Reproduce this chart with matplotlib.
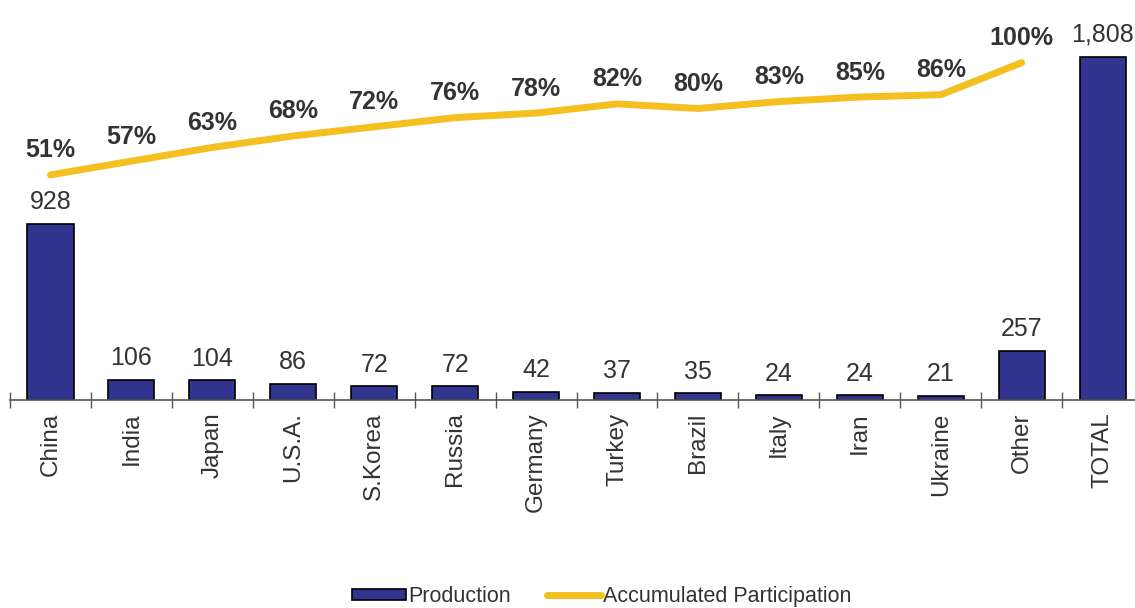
import matplotlib.pyplot as plt

plt.rcParams['font.family'] = ['Liberation Sans', 'DejaVu Sans']

# datos
paises = ["China", "India", "Japan", "U.S.A.", "S.Korea", "Russia", "Germany",
          "Turkey", "Brazil", "Italy", "Iran", "Ukraine", "Other", "TOTAL"]
produccion = [928, 106, 104, 86, 72, 72, 42, 37, 35, 24, 24, 21, 257, 1808]
etiquetas_prod = ["928", "106", "104", "86", "72", "72", "42", "37", "35",
                  "24", "24", "21", "257", "1,808"]
acumulado = [51, 57, 63, 68, 72, 76, 78, 82, 80, 83, 85, 86, 100]

azul = "#31358F"
amarillo = "#F4C020"
gris = "#333333"

fig = plt.figure(figsize=(11.35, 6.08), dpi=100)
ax = fig.add_axes([10 / 1135, 1 - 400 / 608, 1 - 10 / 1135, 390 / 608])

x = list(range(len(paises)))
barras = ax.bar(x, produccion, width=0.57, color=azul, edgecolor="black",
                linewidth=1.2, label="Production", zorder=2)
for xi, v, txt in zip(x, produccion, etiquetas_prod):
    ax.annotate(txt, (xi, v), xytext=(0, 7), textcoords="offset points",
                ha="center", va="bottom", fontsize=18, color=gris)

ax.set_xlim(-0.494, 13.4)
ax.set_ylim(0, 2053)
ax.set_xticks(x)
ax.set_xticklabels(paises, rotation=90, fontsize=17.5, color=gris)
ax.set_xticks([i - 0.5 for i in range(len(paises))], minor=True)
ax.tick_params(axis="x", which="major", length=0, pad=9)
ax.tick_params(axis="x", which="minor", length=12, direction="inout",
               width=1, color="#555555")
ax.set_yticks([])
for lado in ["top", "right", "left"]:
    ax.spines[lado].set_visible(False)
ax.spines["bottom"].set_color("#555555")
ax.spines["bottom"].set_linewidth(1.2)

# linea de participacion acumulada
ax2 = ax.twinx()
ax2.set_ylim(-47.3, 123)
linea, = ax2.plot(x[:len(acumulado)], acumulado, color=amarillo, linewidth=5,
                  solid_capstyle="round", label="Accumulated Participation", zorder=3)
for xi, v in zip(x, acumulado):
    ax2.annotate(f"{v}%", (xi, v), xytext=(0, 9), textcoords="offset points",
                 ha="center", va="bottom", fontsize=18, fontweight="bold", color=gris)
ax2.set_yticks([])
for lado in ["top", "right", "left", "bottom"]:
    ax2.spines[lado].set_visible(False)

fig.legend([barras, linea], ["Production", "Accumulated Participation"],
           loc="lower center", bbox_to_anchor=(0.53, -0.03), ncol=2, frameon=False,
           fontsize=15.5, handlelength=2.5, handleheight=0.4, handletextpad=0.1,
           columnspacing=1.7, labelcolor=gris)

fig.savefig("out.png", dpi=100)
